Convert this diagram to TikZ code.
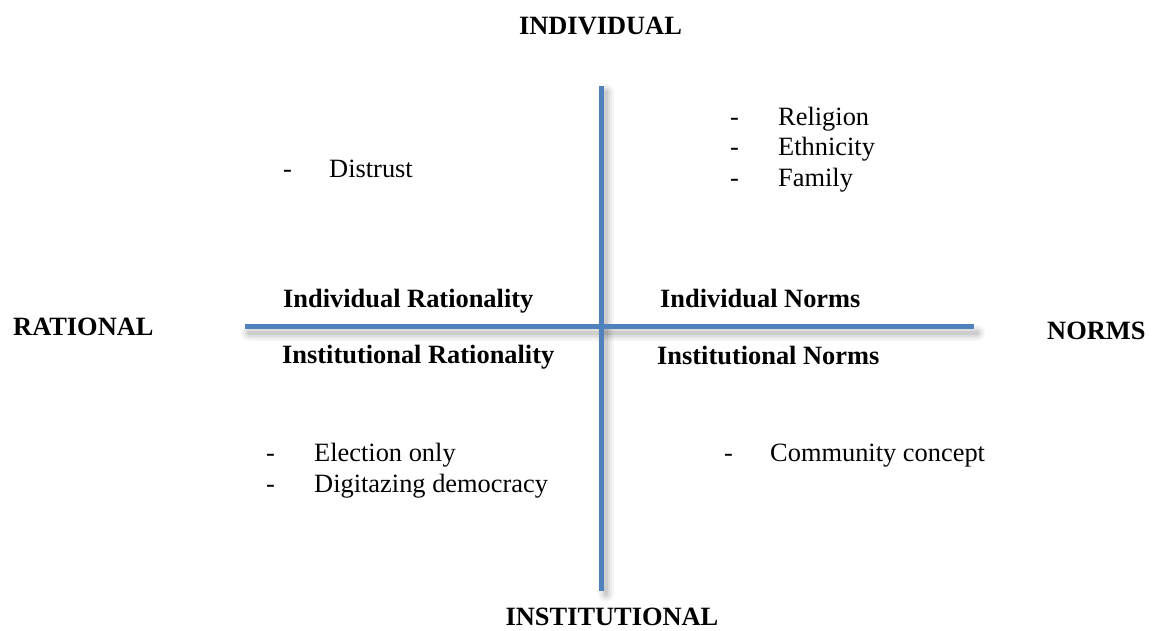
\documentclass[tikz,border=0pt]{standalone}
\usepackage{fontspec}
\setmainfont{Liberation Serif}
\definecolor{axisblue}{HTML}{4F81BD}
\begin{document}
\begin{tikzpicture}[x=1pt,y=-1pt,
  lbl/.style={anchor=base west, inner sep=0pt, font=\fontsize{26.4}{30}\selectfont},
  hd/.style={anchor=base west, inner sep=0pt, font=\fontsize{26.4}{30}\selectfont\bfseries},
  axisline/.style={line width=5pt, draw=axisblue},
  shade/.style={draw=black, line cap=round}]
\useasboundingbox (0,0) rectangle (1152,630);
% axis coordinates
\coordinate (hL) at (245,326.5);
\coordinate (hR) at (973.5,326.5);
\coordinate (vT) at (601.3,86);
\coordinate (vB) at (601.3,591);
\coordinate (hsL) at (249,333);
\coordinate (hsR) at (977,333);
\coordinate (vsT) at (606,92);
\coordinate (vsB) at (606,594);
% soft shadows
\foreach \w/\o in {16/0.035,12/0.045,8/0.06,4/0.07}{
  \draw[shade, line width=\w pt, opacity=\o] (hsL) -- (hsR);
  \draw[shade, line width=\w pt, opacity=\o] (vsT) -- (vsB);
}
% axes
\draw[axisline] (hL) -- (hR);
\draw[axisline] (vT) -- (vB);
% axis titles
\node[hd, anchor=base] (ind) at (600.5,34) {INDIVIDUAL};
\node[hd, anchor=base] (inst) at (612,625) {INSTITUTIONAL};
\node[hd] (rat) at (13,335) {RATIONAL};
\node[hd] (norms) at (1047,339) {NORMS};
% quadrant titles
\node[hd] (iratl) at (283,307) {Individual Rationality};
\node[hd] (instratl) at (282,363.5) {Institutional Rationality};
\node[hd] (inorm) at (660,307) {Individual Norms};
\node[hd] (instnorm) at (657,364) {Institutional Norms};
% lists
\node[lbl] (d1) at (283,177) {-};
\node[lbl] (distrust) at (329,177) {Distrust};
\node[lbl] (d2) at (730,125) {-};
\node[lbl] (religion) at (778,125) {Religion};
\node[lbl] (d3) at (730,155.5) {-};
\node[lbl] (ethnicity) at (778,155.5) {Ethnicity};
\node[lbl] (d4) at (730,186) {-};
\node[lbl] (family) at (778,186) {Family};
\node[lbl] (d5) at (266,461) {-};
\node[lbl] (election) at (314,461) {Election only};
\node[lbl] (d6) at (266,492) {-};
\node[lbl] (digit) at (314,492) {Digitazing democracy};
\node[lbl] (d7) at (724,461) {-};
\node[lbl] (community) at (770,461) {Community concept};
\end{tikzpicture}
\end{document}
